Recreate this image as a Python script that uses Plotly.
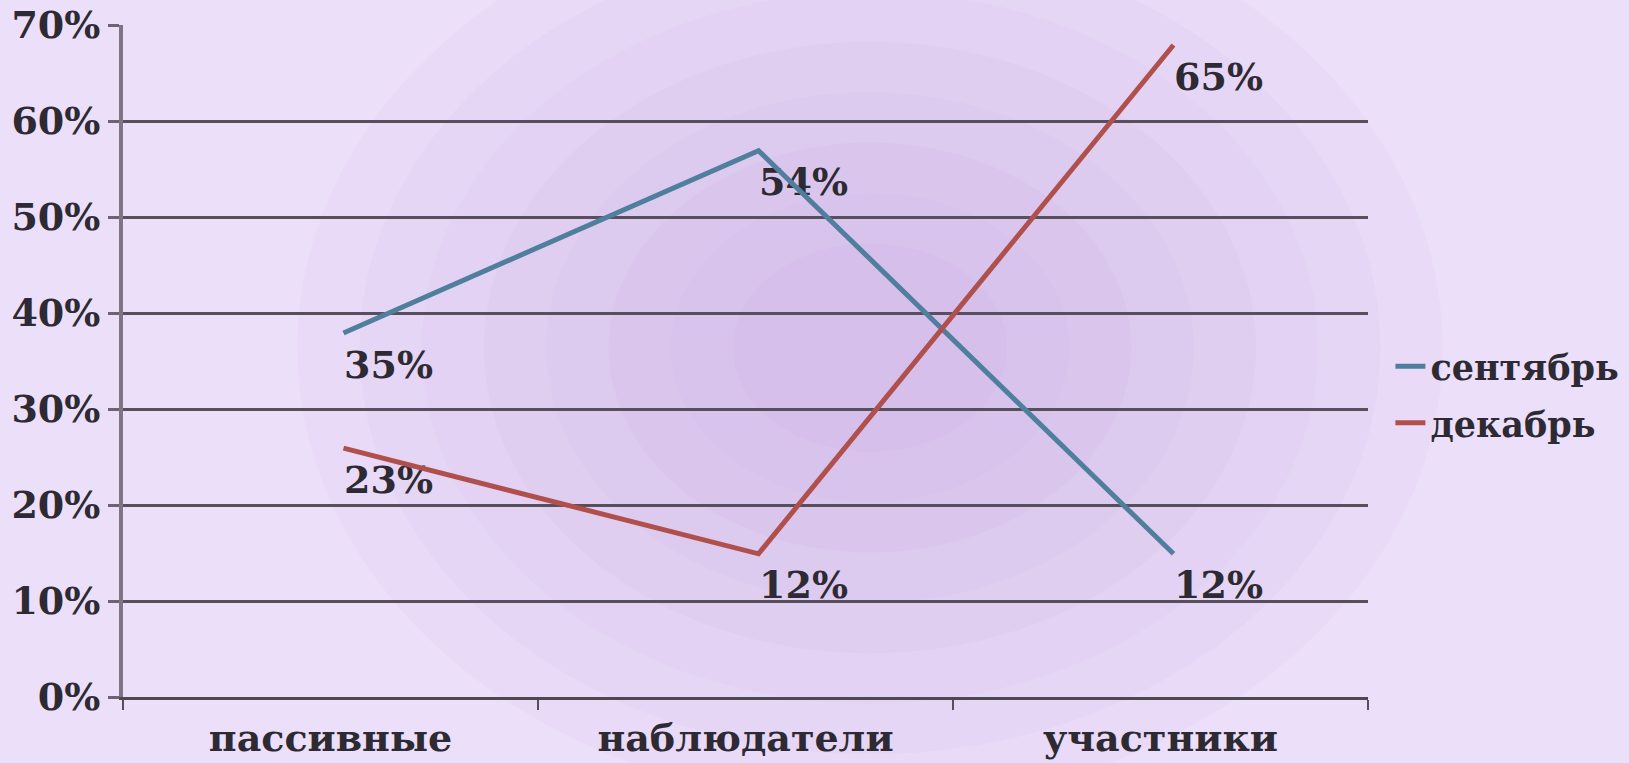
import plotly.graph_objects as go

# ---- data ----
categories = ["пассивные", "наблюдатели", "участники"]
series_names = ["сентябрь", "декабрь"]
september = [35, 54, 12]
december = [23, 12, 65]
y_tick_values = [0, 10, 20, 30, 40, 50, 60, 70]
y_tick_labels = ["0%", "10%", "20%", "30%", "40%", "50%", "60%", "70%"]

# ---- style ----
FONT = "DejaVu Serif"
TEXT = "#2e2a33"
COL_SEP = "#4f7f9c"
COL_DEC = "#b0504d"

W, H = 1629, 763
ML, MR, MT, MB = 123, 261, 25, 66
plot_w = W - ML - MR
plot_h = H - MT - MB
cat_px = plot_w / 3.0
px_per_unit = plot_h / 70.0
# the drawn lines sit slightly right/up of the labelled positions in the reference
dx = 13 / cat_px
dy = 28 / px_per_unit
# data labels sit a little below their anchor in the reference
dy_lbl = 7 / px_per_unit

fig = go.Figure()

# background decoration: soft darker lavender glow in the middle
shapes = []
cx, cy = 0.60, 0.52
n_layers = 8
for i in range(n_layers):
    f = 1.0 - i / n_layers
    rx, ry = 0.40 * f + 0.06, 0.60 * f + 0.08
    shapes.append(dict(type="circle", xref="paper", yref="paper",
                       x0=cx - rx, x1=cx + rx, y0=cy - ry, y1=cy + ry,
                       fillcolor="#b08ee0", opacity=0.055, line=dict(width=0), layer="below"))

# invisible trace that anchors the main x/y subplot (axes + gridlines)
fig.add_trace(go.Scatter(
    x=categories, y=[None] * len(categories), mode="lines",
    showlegend=False, hoverinfo="skip",
))

for i, (name, vals, col) in enumerate([(series_names[0], september, COL_SEP),
                                       (series_names[1], december, COL_DEC)]):
    fig.add_trace(go.Scatter(
        x=categories, y=vals, name=name, mode="lines",
        line=dict(color=col, width=5),
        xaxis="x2", yaxis="y2", hoverinfo="skip", legendgroup=f"g{i}",
    ))

for vals in [september, december]:
    fig.add_trace(go.Scatter(
        x=categories, y=vals, mode="markers+text",
        text=[f"{v}%" for v in vals], textposition="middle right",
        marker=dict(size=20, color="rgba(0,0,0,0)"),
        textfont=dict(family=FONT, size=38, color=TEXT, weight="bold"),
        showlegend=False, hoverinfo="skip", cliponaxis=False,
        yaxis="y3",
    ))

fig.update_layout(
    width=W, height=H,
    margin=dict(l=ML, r=MR, t=MT, b=MB, pad=0, autoexpand=False),
    paper_bgcolor="#ecdff9",
    plot_bgcolor="rgba(0,0,0,0)",
    shapes=shapes,
    showlegend=True,
    legend=dict(
        x=1.018, xanchor="left", y=0.45, yanchor="middle",
        bgcolor="rgba(0,0,0,0)",
        font=dict(family=FONT, size=35, color=TEXT, weight="bold"),
        tracegroupgap=8, itemwidth=30,
    ),
    xaxis=dict(
        type="category", categoryorder="array", categoryarray=categories,
        range=[-0.5, 2.5], tickson="boundaries", ticks="outside", ticklen=10,
        tickwidth=2, tickcolor="#55505a", automargin=False,
        showline=True, linecolor="#4d4852", linewidth=3, showgrid=False, zeroline=False,
        tickfont=dict(family=FONT, size=38, color=TEXT, weight="bold"),
        ticklabelstandoff=5,
    ),
    yaxis=dict(
        range=[0, 70], tickvals=y_tick_values, ticktext=y_tick_labels,
        ticks="outside", ticklen=11, tickwidth=2.5, tickcolor="#6a6370", automargin=False,
        showline=True, linecolor="#7d7585", linewidth=4,
        showgrid=True, gridcolor="#57505c", gridwidth=2.5, zeroline=False,
        tickfont=dict(family=FONT, size=38, color=TEXT, weight="bold"),
        ticklabelstandoff=0,
    ),
    xaxis2=dict(
        type="category", categoryorder="array", categoryarray=categories,
        overlaying="x", visible=False, range=[-0.5 - dx, 2.5 - dx],
    ),
    yaxis2=dict(
        overlaying="y", visible=False, range=[0 - dy, 70 - dy],
    ),
    yaxis3=dict(
        overlaying="y", visible=False, range=[0 + dy_lbl, 70 + dy_lbl],
    ),
)

fig.write_html("out.html", config={"displayModeBar": False},
               post_script="document.body.style.margin='0';")
